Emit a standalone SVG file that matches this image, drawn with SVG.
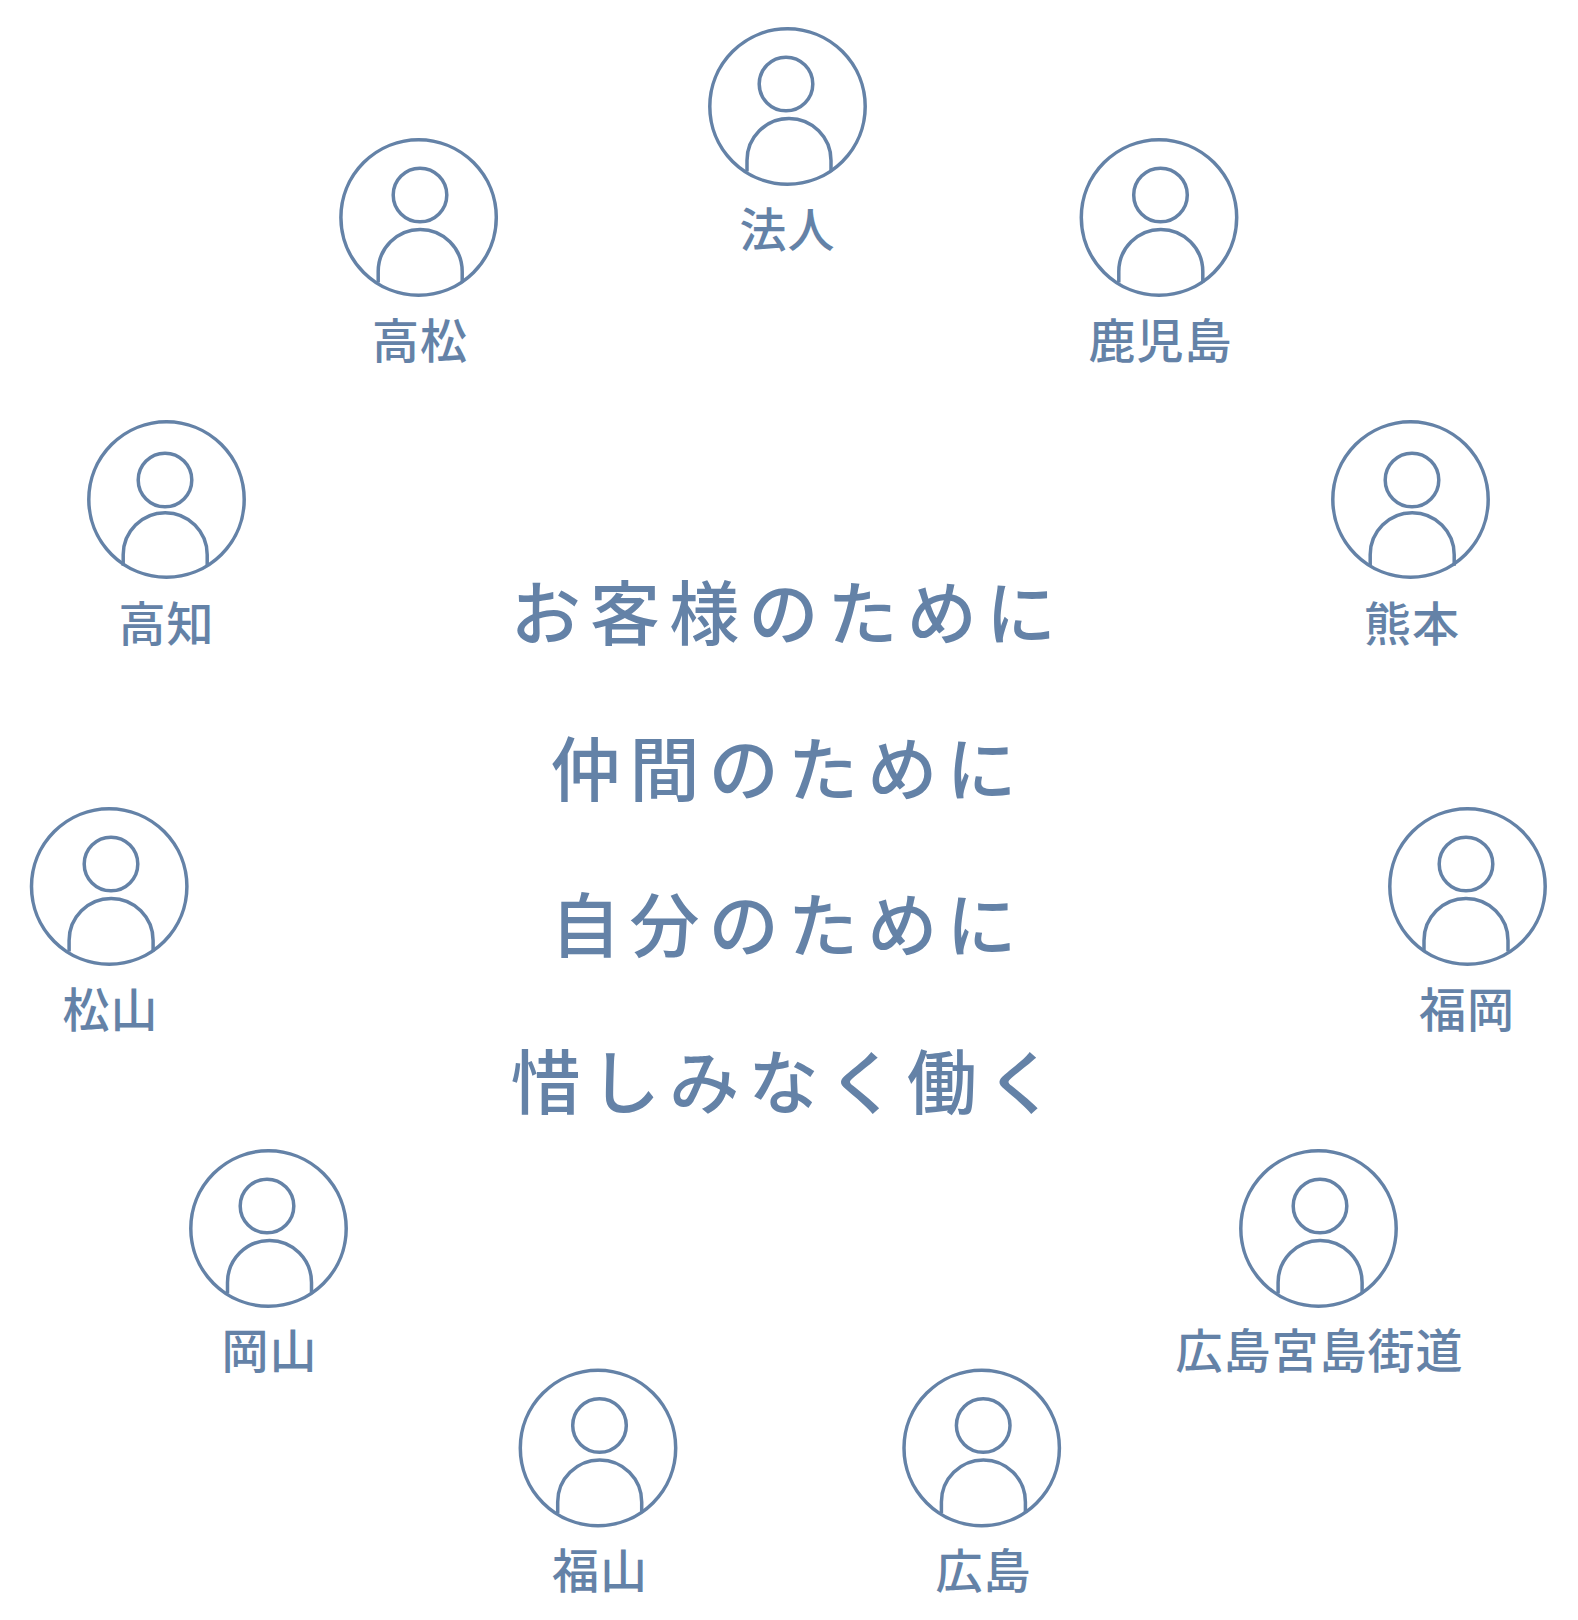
<svg xmlns="http://www.w3.org/2000/svg" width="1578" height="1620" viewBox="0 0 1578 1620">
<style>
.o{fill:none;stroke:#6482a7;stroke-width:3.5}
.t{fill:#6482a7;font-family:"Noto Sans CJK JP","Noto Sans",sans-serif;font-weight:500;text-anchor:middle}
.l{font-size:47px;letter-spacing:1px}
.c{font-size:70px;letter-spacing:9.2px}
</style>
<defs>
<circle id="ring" class="o" r="77.7"/>
<circle id="head" class="o" r="26.8"/>
<path id="body" class="o" d="M-42 65V54A42 42 0 0 1 42 54V65"/>
</defs>
<rect width="1578" height="1620" fill="#fff"/>
<g id="connectors"/>
<g id="n1"><use href="#ring" x="787.5" y="106.5"/><use href="#head" x="786" y="84"/><use href="#body" x="789" y="106.5"/><text class="t l" x="787.5" y="247">法人</text></g>
<g id="n2"><use href="#ring" x="418.6" y="217.5"/><use href="#head" x="420" y="195"/><use href="#body" x="420.2" y="217.5"/><text class="t l" x="420" y="358">高松</text></g>
<g id="n3"><use href="#ring" x="1159" y="217.5"/><use href="#head" x="1160.5" y="195"/><use href="#body" x="1160.8" y="217.5"/><text class="t l" x="1160.5" y="358">鹿児島</text></g>
<g id="n4"><use href="#ring" x="166.5" y="499.5"/><use href="#head" x="165" y="480"/><use href="#body" x="165.2" y="500.7"/><text class="t l" x="166.5" y="641">高知</text></g>
<g id="n5"><use href="#ring" x="1410.5" y="499.5"/><use href="#head" x="1412" y="480"/><use href="#body" x="1412.2" y="500.7"/><text class="t l" x="1412" y="641">熊本</text></g>
<g id="n6"><use href="#ring" x="109.2" y="886.5"/><use href="#head" x="111" y="864"/><use href="#body" x="111.1" y="886.5"/><text class="t l" x="110.5" y="1027">松山</text></g>
<g id="n7"><use href="#ring" x="1467.5" y="886.5"/><use href="#head" x="1466" y="864"/><use href="#body" x="1466" y="886.5"/><text class="t l" x="1467" y="1027">福岡</text></g>
<g id="n8"><use href="#ring" x="268.5" y="1228.5"/><use href="#head" x="267" y="1206"/><use href="#body" x="269.5" y="1228.5"/><text class="t l" x="269.5" y="1368">岡山</text></g>
<g id="n9"><use href="#ring" x="1318.5" y="1228.5"/><use href="#head" x="1320" y="1206"/><use href="#body" x="1320.1" y="1228.5"/><text class="t l" x="1319.5" y="1368">広島宮島街道</text></g>
<g id="n10"><use href="#ring" x="598" y="1448"/><use href="#head" x="599.5" y="1425.5"/><use href="#body" x="599.7" y="1448"/><text class="t l" x="600" y="1588">福山</text></g>
<g id="n11"><use href="#ring" x="981.7" y="1448"/><use href="#head" x="983.2" y="1425.5"/><use href="#body" x="983.4" y="1448"/><text class="t l" x="983.5" y="1588">広島</text></g>
<g id="center">
<text class="t c" x="788" y="639.5">お客様のために</text>
<text class="t c" x="788" y="796">仲間のために</text>
<text class="t c" x="788" y="952">自分のために</text>
<text class="t c" x="788" y="1108.5">惜しみなく働く</text>
</g>
</svg>
